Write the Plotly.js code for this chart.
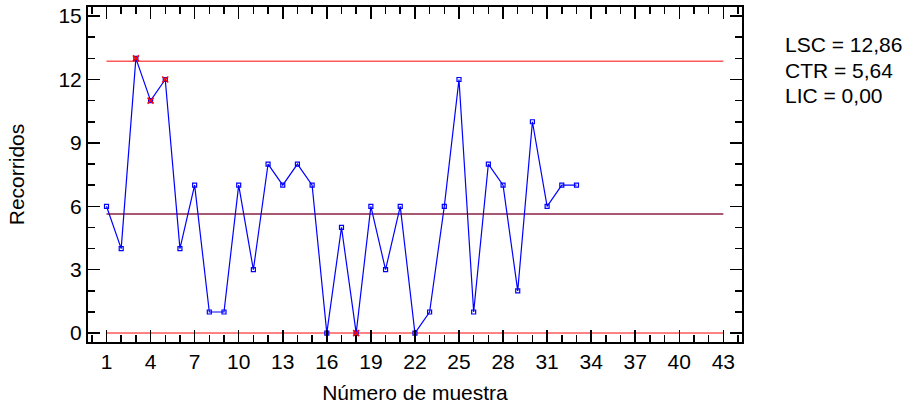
<!DOCTYPE html>
<html>
<head>
<meta charset="utf-8">
<script src="https://cdn.plot.ly/plotly-3.0.1.min.js"></script>
<style>html,body{margin:0;padding:0;background:#fff;}#chart{width:914px;height:405px;}</style>
</head>
<body>
<div id="chart"></div>
<script>
// Data
const samples = [1,2,3,4,5,6,7,8,9,10,11,12,13,14,15,16,17,18,19,20,21,22,23,24,25,26,27,28,29,30,31,32,33];
const ranges  = [6,4,13,11,12,4,7,1,1,7,3,8,7,8,7,0,5,0,6,3,6,0,1,6,12,1,8,7,2,10,6,7,7];
const flagged = [3,4,5,18];
const UCL = 12.86, CTR = 5.64, LCL = 0.00;
const limitX = [1, 43];
const limitLabels = ["LSC = 12,86", "CTR = 5,64", "LIC = 0,00"];
const xTitle = "Número de muestra";
const yTitle = "Recorridos";

const FONT = "Liberation Sans, Arial, sans-serif";

const isFlag = samples.map(s => flagged.includes(s));

const traces = [
  {x: limitX, y: [UCL, UCL], mode: 'lines', line: {color: '#ff5a5a', width: 1.5}, hoverinfo: 'skip'},
  {x: limitX, y: [CTR, CTR], mode: 'lines', line: {color: '#8b2040', width: 1.5}, hoverinfo: 'skip'},
  {x: limitX, y: [LCL, LCL], mode: 'lines', line: {color: '#ff5a5a', width: 1.5}, hoverinfo: 'skip'},
  {x: samples, y: ranges, mode: 'lines+markers',
   line: {color: '#0000ff', width: 1.2},
   marker: {symbol: 'square-open', size: 4, color: '#0000ff', line: {width: 1.2, color: '#0000ff'}}},
  {x: samples.filter((s,i)=>isFlag[i]), y: ranges.filter((v,i)=>isFlag[i]), mode: 'markers',
   marker: {symbol: 'x-thin-open', size: 6, color: '#ff0000', line: {width: 1.5, color: '#ff0000'}}}
];

const axisCommon = {
  showline: true, linecolor: '#000', linewidth: 2, mirror: 'allticks',
  ticks: 'inside', ticklen: 12, tickwidth: 1.5, tickcolor: '#000',
  showgrid: false, zeroline: false,
  tickfont: {family: FONT, size: 21, color: '#000'}
};

const layout = {
  width: 914, height: 405,
  margin: {l: 88, r: 172, t: 7, b: 63},
  paper_bgcolor: '#fff', plot_bgcolor: '#fff',
  showlegend: false,
  font: {family: FONT, color: '#000'},
  xaxis: Object.assign({}, axisCommon, {
    range: [-0.26, 44.27], tick0: 1, dtick: 3,
    minor: {dtick: 1, ticks: 'inside', ticklen: 7, tickwidth: 1.5, tickcolor: '#000', showgrid: false},
    title: {text: xTitle, font: {family: FONT, size: 21, color: '#000'}, standoff: 13}
  }),
  yaxis: Object.assign({}, axisCommon, {
    range: [-0.42, 15.43], tick0: 0, dtick: 3,
    minor: {dtick: 1, ticks: 'inside', ticklen: 7, tickwidth: 1.5, tickcolor: '#000', showgrid: false},
    title: {text: yTitle, font: {family: FONT, size: 21, color: '#000'}, standoff: 28}
  }),
  annotations: limitLabels.map((t, i) => ({
    text: t, xref: 'paper', yref: 'paper', x: 1.062, y: (342 - (44 + 26*i)) / 335,
    xanchor: 'left', yanchor: 'middle', showarrow: false,
    font: {family: FONT, size: 21, color: '#000'}
  }))
};

Plotly.newPlot('chart', traces, layout, {displayModeBar: false, staticPlot: true});
</script>
</body>
</html>
